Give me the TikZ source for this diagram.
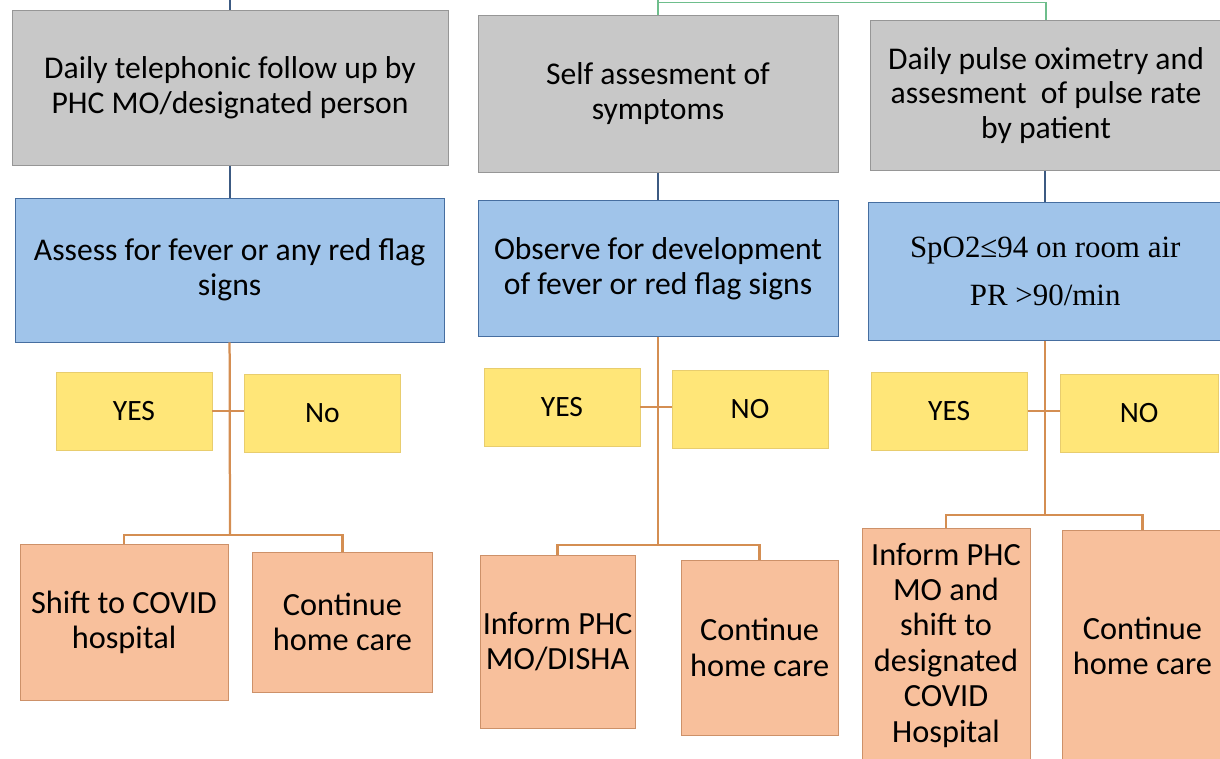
\documentclass[tikz,border=0pt]{standalone}
\usepackage{fontspec}
\setmainfont{Carlito}
\newfontfamily\timesfont{Liberation Serif}
\usetikzlibrary{positioning}

\definecolor{greyfill}{RGB}{200,200,200}
\definecolor{greyedge}{RGB}{150,150,150}
\definecolor{bluefill}{RGB}{160,196,234}
\definecolor{blueedge}{RGB}{70,110,160}
\definecolor{yellowfill}{RGB}{255,230,120}
\definecolor{yellowedge}{RGB}{232,205,110}
\definecolor{orangefill}{RGB}{248,192,156}
\definecolor{orangeedge}{RGB}{205,145,105}
\definecolor{orangeline}{RGB}{212,142,82}
\definecolor{blueline}{RGB}{60,90,130}
\definecolor{greenline}{RGB}{110,190,140}

\begin{document}
\begin{tikzpicture}
        \tikzstyle{block}=[rectangle, draw, align=center, inner sep=2pt, line width=0.6pt, font=\fontsize{22.5}{24.5}\selectfont]
        \tikzstyle{greybox}=[block, fill=greyfill, draw=greyedge]
        \tikzstyle{bluebox}=[block, fill=bluefill, draw=blueedge, font=\fontsize{22.5}{25}\selectfont]
        \tikzstyle{answer}=[block, fill=yellowfill, draw=yellowedge, minimum width=3.9cm, minimum height=1.95cm, font=\fontsize{21}{25}\selectfont]
        \tikzstyle{action}=[block, fill=orangefill, draw=orangeedge, font=\fontsize{23}{25.2}\selectfont]
        \tikzstyle{flowline}=[draw=orangeline, line width=1.6pt]
        \tikzstyle{stemline}=[draw=blueline, line width=1.2pt]
        \useasboundingbox (0,0) rectangle (30.5,-18.95);

        % first row
        \node[greybox, minimum width=10.9cm, minimum height=3.88cm] (phone) at (5.75,-2.19) {Daily telephonic follow up by\\PHC MO/designated person};
        \node[greybox, minimum width=9.0cm, minimum height=3.93cm] (self) at (16.45,-2.34) {Self assesment of\\symptoms};
        \node[greybox, minimum width=8.8cm, minimum height=3.75cm] (oxi) at (26.15,-2.38) {Daily pulse oximetry and\\assesment\ \ of pulse rate\\by patient};

        % second row
        \node[bluebox, minimum width=10.72cm, minimum height=3.6cm] (fever) at (5.74,-6.75) {Assess for fever or any red flag\\signs};
        \node[bluebox, minimum width=9.0cm, minimum height=3.42cm] (observe) at (16.45,-6.71) {Observe for development\\of fever or red flag signs};
        \node[bluebox, minimum width=8.85cm, minimum height=3.45cm, font=\timesfont\fontsize{22}{34}\selectfont] (spo) at (26.13,-6.78) {SpO2≤94 on room air\\PR {>}90/min};

        % yes / no
        \node[answer] (yes1) at (3.35,-10.28) {YES};
        \node[answer, minimum width=3.88cm] (no1) at (8.06,-10.33) {No};
        \node[answer] (yes2) at (14.05,-10.18) {YES};
        \node[answer] (no2) at (18.75,-10.23) {NO};
        \node[answer] (yes3) at (23.73,-10.28) {YES};
        \node[answer, minimum width=3.95cm] (no3) at (28.48,-10.33) {NO};

        % outcomes
        \node[action, minimum width=5.2cm, minimum height=3.88cm] (shift) at (3.1,-15.56) {Shift to COVID\\hospital};
        \node[action, minimum width=4.48cm, minimum height=3.5cm] (home1) at (8.56,-15.55) {Continue\\home care};
        \node[action, minimum width=3.88cm, minimum height=4.33cm] (inform) at (13.94,-16.04) {Inform PHC\\MO/DISHA};
        \node[action, minimum width=3.93cm, minimum height=4.38cm] (home2) at (18.99,-16.19) {Continue\\home care};
        \node[action, minimum width=4.2cm, minimum height=5.85cm] (transfer) at (23.65,-16.13) {Inform PHC\\MO and\\shift to\\designated\\COVID\\Hospital};
        \node[action, minimum width=3.98cm, minimum height=5.8cm] (home3) at (28.56,-16.15) {Continue\\home care};

        \coordinate (top1) at (5.75,0);
        \coordinate (top2) at (16.45,0);
        \coordinate (gbar) at (16.45,-0.06);
        \coordinate (br1) at (5.75,-13.38);
        \coordinate (br2) at (16.45,-13.63);
        \coordinate (br3) at (26.13,-12.88);

        \draw[stemline] (top1) -- (phone.north);
        \draw[draw=greenline, line width=1.2pt] (top2) -- (self.north);
        \draw[draw=greenline, line width=1.2pt] (gbar) -| (oxi.north);
        \draw[stemline] (phone.south) -- (phone.south |- fever.north);
        \draw[stemline] (self.south) -- (self.south |- observe.north);
        \draw[stemline] (oxi.south -| spo.north) -- (spo.north);

        \draw[flowline] (fever.south) -- (br1);
        \draw[flowline] (observe.south) -- (br2);
        \draw[flowline] (spo.south) -- (br3);
        \draw[flowline] (yes1.east) -- (yes1.east -| no1.west);
        \draw[flowline] (yes2.east) -- (yes2.east -| no2.west);
        \draw[flowline] (yes3.east) -- (yes3.east -| no3.west);
        \draw[flowline] (br1) -| (shift.north);
        \draw[flowline] (br1) -| (home1.north);
        \draw[flowline] (br2) -| (inform.north);
        \draw[flowline] (br2) -| (home2.north);
        \draw[flowline] (br3) -| (transfer.north);
        \draw[flowline] (br3) -| (home3.north);
    \end{tikzpicture}
\end{document}
